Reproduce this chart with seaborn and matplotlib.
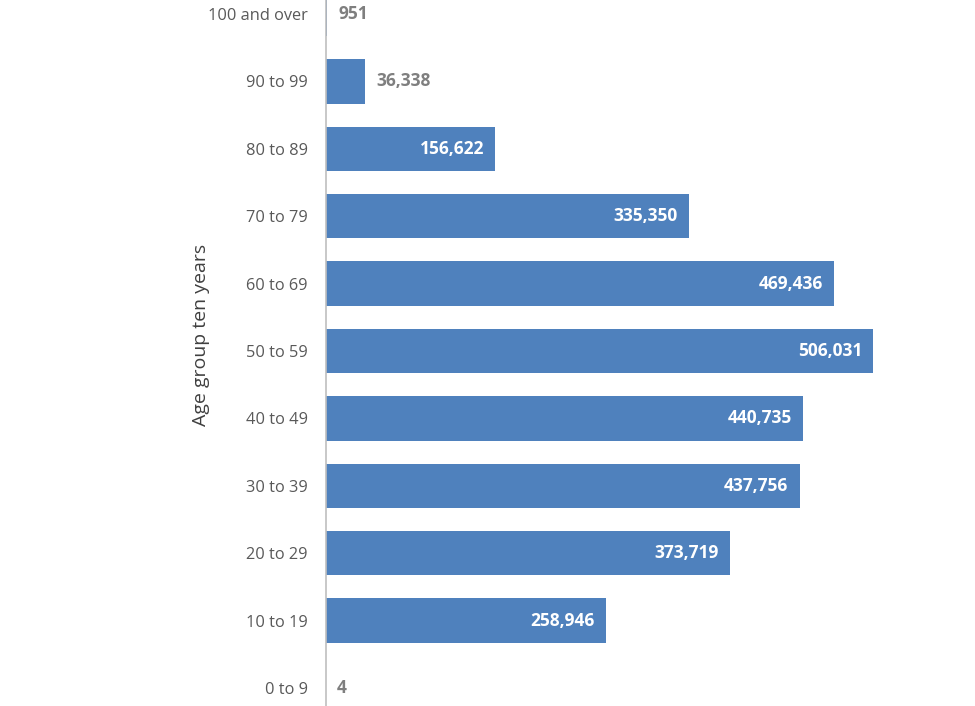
"""Horizontal bar chart of population by ten-year age group."""
import matplotlib
matplotlib.use("Agg")
import pandas as pd
import seaborn as sns
from matplotlib import pyplot as plt

AGE_GROUPS = [
    "100 and over", "90 to 99", "80 to 89", "70 to 79", "60 to 69",
    "50 to 59", "40 to 49", "30 to 39", "20 to 29", "10 to 19", "0 to 9",
]
COUNTS = [951, 36338, 156622, 335350, 469436, 506031, 440735, 437756, 373719, 258946, 4]

BAR_COLOR = "#4F81BD"
TEXT_GREY = "#595959"
LABEL_GREY = "#7F7F7F"


def main() -> None:
    df = pd.DataFrame({"age_group": AGE_GROUPS, "count": COUNTS})

    sns.set_theme(style="white")
    plt.rcParams["font.family"] = ["Open Sans", "DejaVu Sans"]

    fig = plt.figure(figsize=(9.75, 7.06), dpi=100)
    ax = fig.add_axes([326 / 975, 0, 1 - 326 / 975, 1])

    sns.barplot(data=df, x="count", y="age_group", order=AGE_GROUPS,
                color=BAR_COLOR, saturation=1, width=0.66, linewidth=0, ax=ax)

    ax.set_xlim(0, 600000)
    ax.set_ylim(10.267, -0.208)

    # value labels: inside the long bars, outside the short ones
    for i, val in enumerate(COUNTS):
        txt = f"{val:,}"
        if val > 100000:
            ax.annotate(txt, (val, i), xytext=(-8, 0), textcoords="offset points",
                        ha="right", va="center", color="white",
                        fontsize=12.5, fontweight="bold")
        else:
            ax.annotate(txt, (val, i), xytext=(8, 0), textcoords="offset points",
                        ha="left", va="center", color=LABEL_GREY,
                        fontsize=12.5, fontweight="bold")

    for side in ["top", "right", "bottom"]:
        ax.spines[side].set_visible(False)
    ax.spines["left"].set_color("#BFBFBF")
    ax.spines["left"].set_linewidth(1.2)

    ax.set_xticks([])
    ax.set_xlabel("")
    ax.set_ylabel("Age group ten years", fontsize=14, color="#404040")
    ax.yaxis.set_label_coords(-0.178, 0.525)
    ax.tick_params(axis="y", length=0, pad=13, labelsize=11.8, labelcolor=TEXT_GREY)

    fig.savefig("out.png", dpi=100)
    plt.close(fig)


if __name__ == "__main__":
    main()
